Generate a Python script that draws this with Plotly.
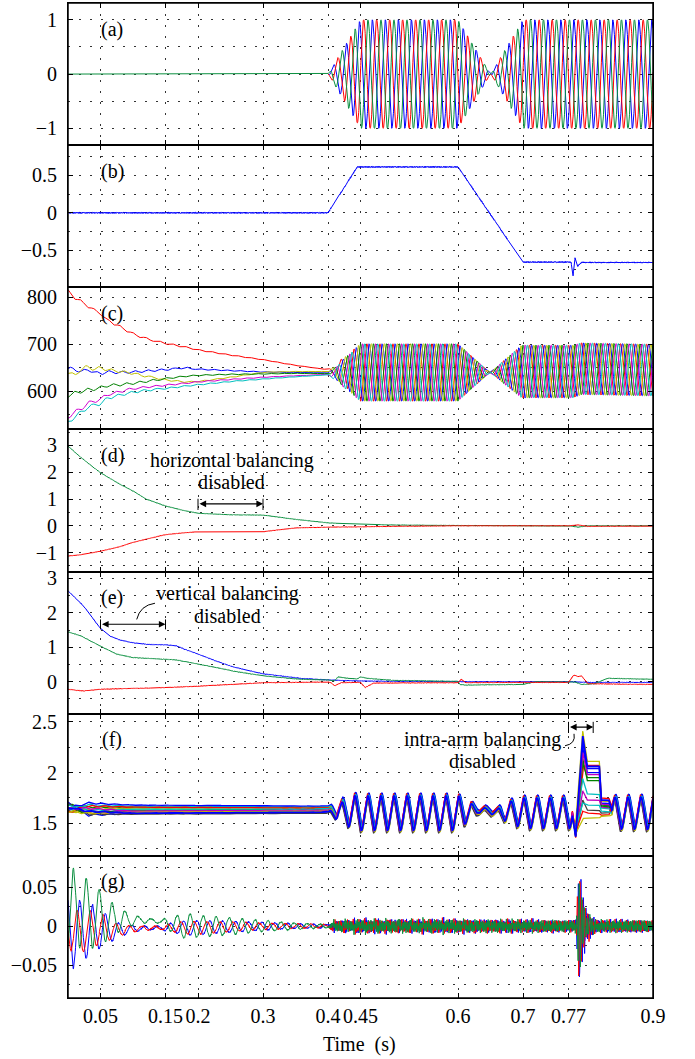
import numpy as np
import plotly.graph_objects as go
from plotly.subplots import make_subplots

# ---------------- axes / labels ----------------
X_TICKS = [0.05, 0.15, 0.2, 0.3, 0.4, 0.45, 0.6, 0.7, 0.77, 0.9]
X_TICK_TEXT = ["0.05", "0.15", "0.2", "0.3", "0.4", "0.45", "0.6", "0.7", "0.77", "0.9"]
PANEL_LABELS = ["(a)", "(b)", "(c)", "(d)", "(e)", "(f)", "(g)"]
Y_RANGES = [[-1.31, 1.31], [-0.99, 0.9], [519, 821], [-1.71, 3.6],
            [-0.93, 3.2], [1.18, 2.58], [-0.092, 0.09]]
Y_TICKS = [[-1, 0, 1], [-0.5, 0, 0.5], [600, 700, 800], [-1, 0, 1, 2, 3],
           [0, 1, 2, 3], [1.5, 2, 2.5], [-0.05, 0, 0.05]]
Y_TICK_TEXT = [["\u22121", "0", "1"], ["\u22120.5", "0", "0.5"], ["600", "700", "800"],
               ["\u22121", "0", "1", "2", "3"], ["0", "1", "2", "3"],
               ["1.5", "2", "2.5"], ["\u22120.05", "0", "0.05"]]
Y_GRID_STEP = [0.5, 0.25, 50, 0.5, 0.5, 0.25, 0.025]
X_TITLE = "Time  (s)"

FREQ_HZ = 50.0          # period: 0.02 s
SAMPLE_STEP = 0.0002
SAMPLE_STEP_G = 0.0004

# ---------------- (a) three-phase currents ----------------
A_ENV_T = [0.0, 0.4, 0.45, 0.6, 0.7, 0.9]
A_ENV = [0.0, 0.0, 1.0, 1.0, -1.0, -1.0]
A_CREST = [0.0082, 0.0149, 0.0215]          # blue, red, green crest times
A_COLORS = ["#0000ff", "#ff0000", "#0a8f3f"]

# ---------------- (b) ----------------
B_T = [0.0, 0.4, 0.445, 0.6, 0.7, 0.774, 0.777, 0.780, 0.784, 0.79, 0.9]
B_V = [0.0, 0.0, 0.61, 0.61, -0.655, -0.655, -0.84, -0.6, -0.71, -0.66, -0.66]
B_FUZZ = 0.007

# ---------------- (c) arm capacitor voltage sums ----------------
C_PRE_T = [0, .01, .02, .03, .04, .05, .06, .08, .1, .12, .15, .18, .2, .25, .3, .35, .4]
C_RED = [812, 800, 790, 782, 772, 766, 752, 737, 722, 712, 702, 694, 688, 677, 667, 655, 646]
C_BLUE = [646, 649, 640, 647, 640, 638, 641, 640, 641, 643, 646, 650, 647, 644, 641, 640, 639]
C_YELLOW = [640, 633, 648, 652, 647, 650, 646, 642, 638, 632, 624, 620, 621, 630, 640, 642, 642]
C_GREEN = [591, 596, 600, 603, 605, 608, 612, 614, 617, 621, 627, 632, 634, 636, 637, 638, 638]
C_MAGENTA = [545, 556, 562, 575, 578, 584, 593, 599, 606, 609, 613, 617, 620, 625, 630, 633, 636]
C_CYAN = [534, 545, 556, 565, 571, 573, 585, 592, 598, 602, 606, 611, 614, 621, 626, 631, 635]
C_RIP_T = [0.0, 0.1, 0.2, 0.4]
C_RIP = [4.0, 2.5, 1.5, 0.5]
C_POST_T = [0.4, 0.45, 0.6, 0.649, 0.698, 0.777, 0.79, 0.9]
C_POST_AMP = [0.0, 61.0, 61.0, 0.0, -56.0, -56.0, -55.0, -55.0]
C_POST_MID = [640, 640, 640, 640, 642, 642, 648, 645]
C_COLORS = ["#ff0000", "#0000ff", "#bfbf00", "#008000", "#d000d0", "#00bfbf"]
C_CREST = [0.0, 0.0033, 0.0067, 0.01, 0.0133, 0.0167]

# ---------------- (d) ----------------
D_T = [0, 0.02, 0.05, 0.08, 0.1, 0.12, 0.15, 0.18, 0.2, 0.25, 0.3, 0.35, 0.4,
       0.45, 0.5, 0.6, 0.7, 0.77, 0.785, 0.8, 0.9]
D_GREEN = [2.98, 2.55, 1.98, 1.55, 1.3, 1.0, 0.74, 0.56, 0.47, 0.41, 0.40, 0.24, 0.11,
           0.06, 0.03, 0.01, 0.0, 0.0, -0.05, 0.0, 0.0]
D_RED = [-1.13, -1.08, -0.95, -0.78, -0.62, -0.5, -0.33, -0.26, -0.22, -0.22, -0.22, -0.08, -0.05,
         -0.04, -0.02, 0.0, 0.0, 0.0, 0.03, -0.02, -0.01]

# ---------------- (e) ----------------
E_BLUE_T = [0, 0.024, 0.049, 0.064, 0.08, 0.1, 0.126, 0.152, 0.167, 0.18, 0.2, 0.228,
            0.254, 0.3, 0.357, 0.4, 0.45, 0.6, 0.7, 0.77, 0.8, 0.9]
E_BLUE = [2.64, 2.2, 1.57, 1.33, 1.21, 1.13, 1.08, 1.07, 1.04, 0.94, 0.8, 0.6,
          0.43, 0.23, 0.1, 0.05, 0.02, 0.0, 0.0, 0.0, -0.02, -0.02]
E_GREEN_T = [0, 0.02, 0.049, 0.075, 0.1, 0.152, 0.167, 0.19, 0.228, 0.254, 0.3, 0.357, 0.4,
             0.41, 0.416, 0.43, 0.445, 0.45, 0.46, 0.5, 0.6, 0.603, 0.612, 0.65, 0.7,
             0.705, 0.72, 0.78, 0.79, 0.81, 0.83, 0.9]
E_GREEN = [1.45, 1.33, 1.04, 0.8, 0.7, 0.65, 0.63, 0.55, 0.41, 0.31, 0.17, 0.07, 0.05,
           0.03, 0.14, 0.1, 0.08, 0.14, 0.1, 0.04, 0.01, -0.08, -0.1, -0.09, -0.08,
           -0.06, 0.0, -0.01, -0.08, -0.06, 0.1, 0.07]
E_RED_T = [0, 0.024, 0.049, 0.152, 0.2, 0.3, 0.4, 0.405, 0.41, 0.42, 0.45, 0.457, 0.47,
           0.6, 0.605, 0.612, 0.7, 0.77, 0.778, 0.785, 0.79, 0.8, 0.9]
E_RED = [-0.22, -0.27, -0.22, -0.17, -0.13, -0.03, -0.01, -0.03, -0.12, -0.03, -0.02, -0.17, -0.04,
         -0.03, 0.07, -0.03, -0.02, -0.02, 0.19, 0.15, 0.17, -0.06, -0.08]

# ---------------- (f) individual capacitor voltages ----------------
F_COLORS = ["#0000ff", "#008000", "#ff0000", "#00bfbf", "#bf00bf", "#bfbf00", "#404040"]
F_PRE_T = [0.0, 0.03, 0.1, 0.4]
F_LV0 = [1.70, 1.68, 1.66, 1.64, 1.62, 1.60, 1.69, 1.65, 1.63, 1.61, 1.67, 1.64, 1.62, 1.66]
F_LV1 = [1.58, 1.66, 1.60, 1.68, 1.62, 1.64, 1.59, 1.70, 1.61, 1.67, 1.63, 1.65, 1.60, 1.62]
F_LV2 = [1.60, 1.66, 1.61, 1.67, 1.62, 1.65, 1.59, 1.68, 1.63, 1.66, 1.64, 1.62, 1.61, 1.60]
F_LV3 = [1.61, 1.66, 1.62, 1.66, 1.63, 1.65, 1.60, 1.67, 1.64, 1.65, 1.64, 1.63, 1.62, 1.61]
F_ENV_T = [0.4, 0.41, 0.44, 0.6, 0.615, 0.63, 0.66, 0.675, 0.7, 0.77, 0.9]
F_ENV = [0.0, 0.06, 0.17, 0.17, 0.1, 0.03, 0.03, 0.1, 0.15, 0.15, 0.16]
F_CTR_T = [0.4, 0.45, 0.6, 0.63, 0.66, 0.7, 0.9]
F_CTR = [1.63, 1.60, 1.60, 1.63, 1.61, 1.60, 1.60]
F_OFF = [-0.02, 0.02, -0.01, 0.025, 0.0, 0.015, -0.025, 0.03, 0.005, 0.02, 0.01, -0.005, -0.015, 0.0]
F_CREST = [0.0008, 0.0022, 0.0005, 0.0026, 0.0012, 0.0019, 0.0003, 0.0028, 0.0015, 0.0010,
           0.0024, 0.0007, 0.0020, 0.0015]
F_SPK_T = [0.776, 0.781, 0.792, 0.798, 0.8175, 0.8195, 0.832, 0.837]
F_DIP = [1.38, 1.42, 1.36, 1.45, 1.40, 1.50, 1.37, 1.43, 1.39, 1.41, 1.44, 1.38, 1.40, 1.37]
F_PEAK = [2.30, 2.14, 2.05, 1.94, 1.82, 2.41, 1.73, 2.25, 2.10, 1.62, 1.70, 2.20, 1.55, 2.36]
F_PLAT = [2.04, 1.92, 2.07, 1.79, 1.73, 2.11, 1.63, 2.00, 1.95, 1.60, 1.68, 1.98, 1.55, 2.06]
F_PLAT2 = [1.70, 1.68, 1.75, 1.65, 1.66, 1.72, 1.60, 1.70, 1.67, 1.58, 1.62, 1.69, 1.57, 1.73]

# ---------------- (g) ----------------
G_T = [0, 0.008, 0.03, 0.05, 0.07, 0.09, 0.11, 0.14, 0.16, 0.18, 0.2, 0.25, 0.3, 0.35, 0.4, 0.9]
G_GREEN_AMP = [0.03, 0.05, 0.045, 0.035, 0.02, 0.01, 0.004, 0.002, 0.01, 0.016, 0.014, 0.011, 0.007, 0.004, 0.002, 0.0]
G_GREEN_MID = [0.0, 0.025, 0.015, 0.01, 0.008, 0.008, 0.008, 0.006, 0.002, 0.0, 0.0, 0.0, 0.0, 0.0, 0.0, 0.0]
G_BLUE_AMP = [0.04, 0.045, 0.035, 0.025, 0.012, 0.006, 0.003, 0.002, 0.006, 0.009, 0.009, 0.007, 0.005, 0.003, 0.002, 0.0]
G_RED_AMP = [0.02, 0.03, 0.025, 0.02, 0.01, 0.005, 0.003, 0.002, 0.005, 0.008, 0.008, 0.006, 0.004, 0.003, 0.002, 0.0]
G_LOW_MID = [0.0, -0.01, -0.005, -0.003, -0.006, -0.004, -0.003, -0.002, -0.002, -0.002, -0.002, -0.001, 0.0, 0.0, 0.0, 0.0]
G_CREST = {"blue": 0.018, "red": 0.014, "green": 0.008}
G_NOISE_T = [0.0, 0.4, 0.41, 0.45, 0.6, 0.7, 0.77, 0.9]
G_NOISE = [0.001, 0.001, 0.006, 0.0075, 0.0075, 0.007, 0.007, 0.007]
G_SPK_T = [0.782, 0.785, 0.788, 0.792, 0.797, 0.805, 0.815]
G_SPK_RED = [0.0, 0.07, 0.06, 0.03, 0.015, 0.008, 0.0]
G_SPK_BLUE = [0.0, 0.06, 0.065, 0.04, 0.02, 0.01, 0.0]
G_SPK_GREEN = [0.0, 0.06, 0.05, 0.025, 0.012, 0.006, 0.0]
G_SPK_FREQ = 250.0

# ======================================================================
t = np.round(np.arange(0.0, 0.9 + SAMPLE_STEP / 2, SAMPLE_STEP), 6)
tg = np.round(np.arange(0.0, 0.9 + SAMPLE_STEP_G / 2, SAMPLE_STEP_G), 6)
W = 2 * np.pi * FREQ_HZ


def ip(ts, vs, tt=None):
    return np.interp(t if tt is None else tt, ts, vs)


def hf(k, tt=None):
    """switching ripple texture (high-frequency content)"""
    tt = t if tt is None else tt
    return (np.sin(2 * np.pi * 1137.0 * tt + k) + 0.7 * np.sin(2 * np.pi * 1713.0 * tt + 2.1 * k)
            + 0.5 * np.sin(2 * np.pi * 2391.0 * tt + 3.7 * k)) / 1.6


fig = make_subplots(rows=7, cols=1, shared_xaxes=True, vertical_spacing=0)


def add(row, y, color, width=1.0, tt=None):
    fig.add_trace(go.Scatter(x=t if tt is None else tt, y=y, mode="lines",
                             line=dict(color=color, width=width),
                             hoverinfo="skip", showlegend=False), row=row, col=1)


# (a): before 0.4 s all three phases sit at zero, the green one drawn over the others
env_a = ip(A_ENV_T, A_ENV)
for crest, col in zip(A_CREST, A_COLORS):
    ya = env_a * np.cos(W * (t - crest))
    if col != A_COLORS[-1]:
        ya = np.where(env_a == 0, np.nan, ya)
    add(1, ya, col, 1.0)

# (b)
add(2, ip(B_T, B_V) + B_FUZZ * hf(0.3), "#0000ff")

# (c)
c_amp = ip(C_POST_T, C_POST_AMP)
c_mid = ip(C_POST_T, C_POST_MID)
c_rip = ip(C_RIP_T, C_RIP)
blend = np.clip((0.45 - t) / 0.05, 0, 1)
for k, (vals, col, crest) in enumerate(zip([C_RED, C_BLUE, C_YELLOW, C_GREEN, C_MAGENTA, C_CYAN],
                                           C_COLORS, C_CREST)):
    pre = ip(C_PRE_T, vals) + c_rip * np.cos(W * (t - crest))
    mid = c_mid + (vals[-1] - C_POST_MID[0]) * blend
    post = mid + c_amp * np.cos(W * (t - crest))
    add(3, np.where(t <= 0.4, pre, post), col)

# (d)
add(4, ip(D_T, D_GREEN) + 0.008 * hf(1.1), "#0a8f3f")
add(4, ip(D_T, D_RED) + 0.008 * hf(2.3), "#ff0000")

# (e)
add(5, ip(E_BLUE_T, E_BLUE) + 0.008 * hf(0.7), "#0000ff")
add(5, ip(E_GREEN_T, E_GREEN) + 0.008 * hf(1.9), "#0a8f3f")
add(5, ip(E_RED_T, E_RED) + 0.008 * hf(2.9), "#ff0000")

# (f)
f_env = ip(F_ENV_T, F_ENV)
f_ctr = ip(F_CTR_T, F_CTR)
pre_rip = ip([0.0, 0.05, 0.1, 0.4], [0.012, 0.008, 0.003, 0.002])
n_f = len(F_LV0)
for i in range(n_f):
    crest = F_CREST[i]
    pre = ip(F_PRE_T, [F_LV0[i], F_LV1[i], F_LV2[i], F_LV3[i]]) + pre_rip * np.cos(W * (t - crest - 0.004 * i))
    off = F_OFF[i] + (F_LV3[i] - F_CTR[0] - F_OFF[i]) * blend
    post = f_ctr + off + f_env * np.cos(W * (t - crest))
    y = np.where(t <= 0.4, pre, post)
    b0 = np.interp(F_SPK_T[0], t, y)
    b1 = np.interp(F_SPK_T[-1], t, y)
    knots = [b0, F_DIP[i], F_PEAK[i], F_PLAT[i], F_PLAT[i], F_PLAT2[i], F_PLAT2[i], b1]
    win = (t >= F_SPK_T[0]) & (t <= F_SPK_T[-1])
    y = np.where(win, np.interp(t, F_SPK_T, knots), y)
    color = "#0000ff" if i == n_f - 1 else F_COLORS[i % len(F_COLORS)]
    add(6, y, color, 1.8 if i == n_f - 1 else 1.3)

# (g)
g_noise = ip(G_NOISE_T, G_NOISE, tg)
g_low = ip(G_T, G_LOW_MID, tg)
specs = [("blue", "#0000ff", G_BLUE_AMP, None, G_SPK_BLUE, 0.4, 0.0),
         ("red", "#ff0000", G_RED_AMP, None, G_SPK_RED, 1.7, 2.2),
         ("green", "#0a8f3f", G_GREEN_AMP, G_GREEN_MID, G_SPK_GREEN, 2.9, 4.1)]
for name, col, amp, mid, spk, kseed, sph in specs:
    base = ip(G_T, mid, tg) if mid is not None else g_low
    y = base + ip(G_T, amp, tg) * np.cos(W * (tg - G_CREST[name]))
    y = y + g_noise * hf(kseed, tg)
    y = y + ip(G_SPK_T, spk, tg) * np.cos(2 * np.pi * G_SPK_FREQ * (tg - 0.785) + sph)
    add(7, y, col, 1.0, tg)

# ---------------- axes styling ----------------
FONT = "Liberation Serif, Times New Roman, serif"
GRID = dict(gridcolor="#333333", gridwidth=1, griddash="2px,9px")
for r in range(1, 8):
    fig.update_xaxes(row=r, col=1, range=[0, 0.9], tickmode="array", tickvals=X_TICKS,
                     ticktext=X_TICK_TEXT, ticks="inside", ticklen=5, tickwidth=1,
                     tickcolor="black", mirror="allticks", showline=True, linecolor="black",
                     linewidth=1, showgrid=True, zeroline=False, tickangle=0, automargin=False,
                     tickfont=dict(family=FONT, size=20, color="black"),
                     showticklabels=(r == 7), **GRID)
    fig.update_yaxes(row=r, col=1, range=Y_RANGES[r - 1], tickmode="array",
                     tickvals=Y_TICKS[r - 1], ticktext=Y_TICK_TEXT[r - 1], ticks="inside",
                     ticklen=5, tickwidth=1, tickcolor="black", mirror="allticks",
                     showline=True, linecolor="black", linewidth=1, showgrid=True,
                     zeroline=False, ticklabelstandoff=6, automargin=False,
                     tickfont=dict(family=FONT, size=20, color="black"),
                     minor=dict(tickmode="linear", tick0=0, dtick=Y_GRID_STEP[r - 1],
                                showgrid=True, ticks="", **GRID),
                     **GRID)

# ---------------- annotations ----------------
ann = []
for r, lab in enumerate(PANEL_LABELS, start=1):
    yr = "y" if r == 1 else f"y{r}"
    xr = "x" if r == 1 else f"x{r}"
    ann.append(dict(text=lab, x=0.0677, xref=xr, y=1 - 26 / 142, yref=f"{yr} domain",
                    showarrow=False, xanchor="center", yanchor="middle",
                    font=dict(family=FONT, size=20, color="black")))


def text(s, x, y, r):
    ann.append(dict(text=s, x=x, xref=f"x{r}", y=y, yref=f"y{r} domain", showarrow=False,
                    xanchor="center", yanchor="middle",
                    font=dict(family=FONT, size=20, color="black")))


text("horizontal balancing", 0.252, 1 - 31 / 142, 4)
text("disabled", 0.251, 1 - 53 / 142, 4)
text("vertical balancing", 0.245, 1 - 22 / 142, 5)
text("disabled", 0.245, 1 - 44 / 142, 5)
text("intra-arm balancing", 0.638, 1 - 26 / 142, 6)
text("disabled", 0.637, 1 - 47.5 / 142, 6)

ARROWS = [(4, 0.2, 0.3, 0.82, 0.59, 1.01), (5, 0.05, 0.15, 1.67, 1.52, 1.81),
          (6, 0.77, 0.808, 2.448, 2.39, 2.50)]
shapes = []
for r, xa, xb, yv, ylo, yhi in ARROWS:
    ann.append(dict(x=xb, y=yv, ax=xa, ay=yv, xref=f"x{r}", yref=f"y{r}", axref=f"x{r}",
                    ayref=f"y{r}", text="", showarrow=True, arrowhead=2, arrowside="end+start",
                    arrowsize=1.2, arrowwidth=1.1, arrowcolor="black", standoff=0,
                    startstandoff=0))
    for xv in (xa, xb):
        shapes.append(dict(type="line", xref=f"x{r}", yref=f"y{r}", x0=xv, x1=xv, y0=ylo,
                           y1=yhi, line=dict(color="black", width=1)))

shapes.append(dict(type="path", xref="x5", yref="y5",
                   path="M 0.1057,1.81 Q 0.111,2.22 0.1338,2.28",
                   line=dict(color="black", width=1)))
shapes.append(dict(type="path", xref="x6", yref="y6",
                   path="M 0.7646,2.264 Q 0.7815,2.284 0.7785,2.382",
                   line=dict(color="black", width=1)))
# outer frame, slightly heavier than the inner separators
shapes.append(dict(type="rect", xref="paper", yref="paper", x0=0, x1=1, y0=0, y1=1,
                   line=dict(color="black", width=1.5)))

ann.append(dict(text=X_TITLE, x=0.499, xref="paper", y=-46 / 995, yref="paper",
                showarrow=False, xanchor="center", yanchor="middle",
                font=dict(family=FONT, size=20, color="black")))

fig.update_layout(width=695, height=1059, margin=dict(l=68, r=42, t=3, b=61, autoexpand=False),
                  paper_bgcolor="white", plot_bgcolor="white", showlegend=False,
                  annotations=ann, shapes=shapes)

fig.write_html("out.html", config={"displayModeBar": False},
               post_script="document.body.style.margin='0px';document.body.style.overflow='hidden';")
